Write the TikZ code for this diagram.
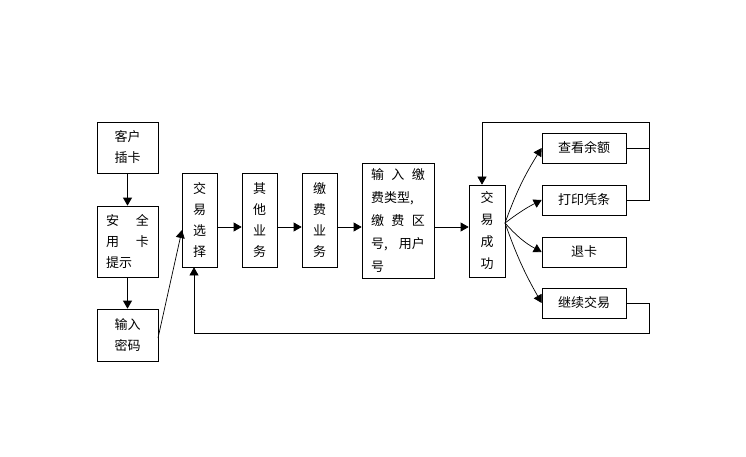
\documentclass[tikz,border=0pt]{standalone}
\usepackage{fontspec}
\newfontfamily\cjk{Noto Sans CJK SC}
\usetikzlibrary{arrows.meta}
\begin{document}
\begin{tikzpicture}[x=1pt,y=-1pt,
  box/.style={draw, line width=0.7pt, inner sep=0pt, align=center,
    font=\cjk\fontsize{13}{21}\selectfont},
  hbox/.style={box, minimum width=84pt, minimum height=30pt},
  vbox/.style={box, minimum width=35pt, minimum height=94pt},
  arr/.style={-{Triangle[length=8pt,width=9pt]}, line width=0.7pt},
  ln/.style={line width=0.7pt}]
\fill[white] (0,0) rectangle (746,457);
\useasboundingbox (0,0) rectangle (746,457);
% left column
\node[box, minimum width=61pt, minimum height=51pt] (kh) at (127.5,147.5) {客户\\插卡};
\node[box, minimum width=61pt, minimum height=71pt, align=left] (aq) at (127.5,241.5)
  {\makebox[43pt][s]{安\hfil 全}\\\makebox[43pt][s]{用\hfil 卡}\\提示\hspace{17pt}};
\node[box, minimum width=61pt, minimum height=52pt] (mm) at (127.5,335) {输入\\密码};
% middle
\node[vbox] (xz) at (199.5,220) {交\\易\\选\\择};
\node[vbox] (qt) at (259.5,220) {其\\他\\业\\务};
\node[vbox] (jf) at (319.5,220) {缴\\费\\业\\务};
\node[box, minimum width=72pt, minimum height=115pt, align=left,
  font=\cjk\fontsize{13}{23}\selectfont] (sr) at (398,220.5)
  {\makebox[54pt][s]{输\hfil 入\hfil 缴}\\费类型,\\\makebox[54pt][s]{缴\hfil 费\hfil 区}\\\makebox[54pt][s]{号,\hfil 用户}\\号};
\node[box, minimum width=36pt, minimum height=92pt,
  font=\cjk\fontsize{13}{22}\selectfont] (cg) at (487,231) {交\\易\\成\\功};
% right column
\node[hbox] (ye) at (584,148) {查看余额};
\node[hbox] (dy) at (584,200) {打印凭条};
\node[hbox] (tk) at (584,252) {退卡};
\node[hbox] (jx) at (584,303) {继续交易};
% helper coordinates
\coordinate (ym) at (0,227);
\coordinate (tr) at (649,122);
\coordinate (tl) at (482,122);
\coordinate (br) at (649,333);
\coordinate (bl) at (194,333);
\coordinate (fan) at (505,223);
\coordinate (mo) at (158,338);
\coordinate (mi) at (182,230);
% arrows
\draw[arr] (kh) -- (aq);
\draw[arr] (aq) -- (mm);
\draw[arr] (mo) -- (mi);
\draw[arr] (xz.east |- ym) -- (qt.west |- ym);
\draw[arr] (qt.east |- ym) -- (jf.west |- ym);
\draw[arr] (jf.east |- ym) -- (sr.west |- ym);
\draw[arr] (sr.east |- ym) -- (cg.west |- ym);
\draw[arr] (fan) to[bend left=6] (ye.west);
\draw[arr] (fan) to[bend left=5] (dy.west);
\draw[arr] (fan) to[bend right=10] (tk.west);
\draw[arr] (fan) to[bend right=5] (jx.west);
% feedback loops
\draw[ln] (ye.east) -- (ye.east -| tr);
\draw[arr] (dy.east) -- (dy.east -| tr) -- (tr) -- (tl) -- (tl |- cg.north);
\draw[arr] (jx.east) -- (jx.east -| br) -- (br) -- (bl) -- (bl |- xz.south);
\end{tikzpicture}
\end{document}
